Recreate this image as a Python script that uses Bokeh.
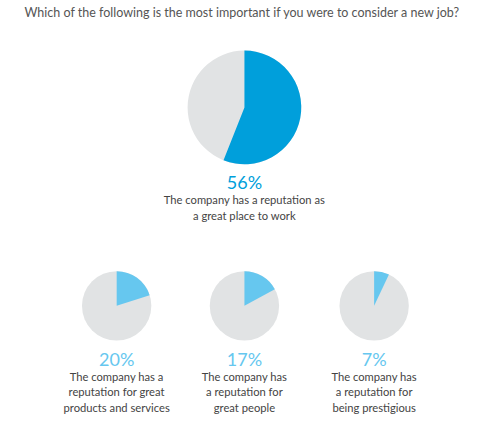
import math

from bokeh.core.properties import value
from bokeh.embed import file_html
from bokeh.models import ColumnDataSource, Range1d
from bokeh.plotting import figure
from bokeh.resources import INLINE

title = "Which of the following is the most important if you were to consider a new job?"
shares = [56, 20, 17, 7]
pct_labels = ["56%", "20%", "17%", "7%"]
descriptions = [
    ["The company has a reputation as", "a great place to work"],
    ["The company has a", "reputation for great", "products and services"],
    ["The company has", "a reputation for", "great people"],
    ["The company has", "a reputation for", "being prestigious"],
]

W, H = 484, 420
SX, SY = W / 500, H / 436
# reference coords (500x436 picture) -> data coords
def px(x):
    return x * SX

def py(y):
    return H - y * SY

# layout of the four pies: centre x, centre y, radius
cx = [252, 120, 252, 386]
cy = [111, 317, 317, 317]
rad = [59, 36, 36, 36]
fill = ["#009fdb", "#66c7ef", "#66c7ef", "#66c7ef"]
rest_color = "#e1e3e4"

p = figure(width=W, height=H, x_range=Range1d(0, W), y_range=Range1d(0, H),
           output_backend="svg", toolbar_location=None, tools="",
           min_border=0)
p.axis.visible = False
p.grid.visible = False
p.outline_line_color = None
p.background_fill_color = "white"

start = [math.pi / 2] * 4
end = [math.pi / 2 - s / 100 * 2 * math.pi for s in shares]
src = ColumnDataSource(dict(
    x=[px(v) for v in cx], y=[py(v) for v in cy], r=[v * SY for v in rad],
    start=start, end=end, color=fill,
))
# grey full disc, then the share on top
p.circle(x="x", y="y", radius="r", source=src, fill_color=rest_color, line_color=None)
p.wedge(x="x", y="y", radius="r", start_angle="start", end_angle="end",
        direction="clock", source=src, fill_color="color", line_color=None)

p.text(x=[px(250)], y=[py(12)], text=[title], text_align="center",
       text_baseline="middle", text_font=value("Lato"), text_font_size="12.5px",
       text_color="#555555")

pct_y = [188, 372, 372, 372]
p.text(x=[px(v) for v in cx], y=[py(v) for v in pct_y], text=pct_labels,
       text_align="center", text_baseline="middle", text_font=value("Lato"),
       text_font_size="18px", text_color=fill)

first_line = [207, 390, 390, 390]
lx, ly, lt = [], [], []
for i, lines in enumerate(descriptions):
    for j, line in enumerate(lines):
        lx.append(px(cx[i]))
        ly.append(py(first_line[i] + j * 16.3))
        lt.append(line)
p.text(x=lx, y=ly, text=lt, text_align="center", text_baseline="middle",
       text_font=value("Lato"), text_font_size="11.2px", text_color="#444444")

open("out.html", "w").write(file_html(p, INLINE))
